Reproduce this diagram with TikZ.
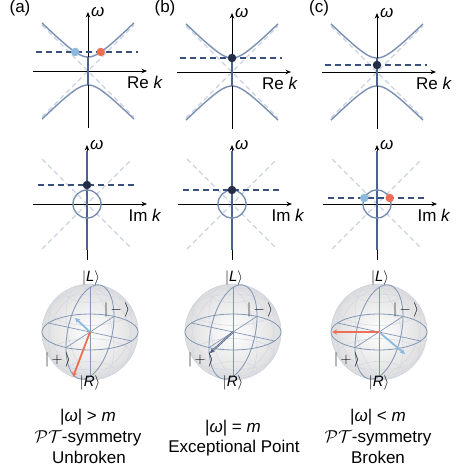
\documentclass[tikz,border=0pt]{standalone}
\usepackage{fontspec}
\setmainfont{Liberation Sans}
\usetikzlibrary{arrows.meta}
\definecolor{hypc}{HTML}{7A90B2}
\definecolor{asymc}{HTML}{C9D3E2}
\definecolor{dashc}{HTML}{37507D}
\definecolor{dotd}{HTML}{232D46}
\definecolor{dotb}{HTML}{8CB9DC}
\definecolor{dotr}{HTML}{EE6E55}
\definecolor{segc}{HTML}{4A6390}
\definecolor{gcc}{HTML}{8498B6}
\definecolor{wirec}{HTML}{D3D8E0}
\definecolor{slatec}{HTML}{4F5E76}
\definecolor{slatel}{HTML}{A9B6C8}
\newcommand{\kt}[1]{$|$#1$\rangle$}
\tikzset{
 axisline/.style={line width=0.9pt, black, -{Stealth[length=5.5pt,width=4.5pt]}},
 hypline/.style={hypc, line width=1.4pt},
 asymline/.style={asymc, line width=1.3pt, dash pattern=on 5pt off 3.5pt},
 wline/.style={dashc, line width=1.6pt, dash pattern=on 6pt off 4pt},
 lbl/.style={font=\fontsize{17}{20}\selectfont, inner sep=0pt},
 ketl/.style={font=\fontsize{15}{18}\selectfont, inner sep=0pt},
 dotn/.style={circle, inner sep=0pt, minimum size=8.5pt},
 wire/.style={wirec, line width=0.5pt},
 gcl/.style={gcc, line width=0.8pt},
 sarrow/.style={line width=1.8pt, -{Stealth[length=5pt,width=5pt]}},
}
% top panel: name, x, y, omega, label x offset
\newcommand{\TopPanel}[5]{%
\begin{scope}[shift={(#2,#3)}]
 \draw[asymline] (-46,-46) -- (46,46);
 \draw[asymline] (-46,46) -- (46,-46);
 \draw[hypline] plot[domain=-46:46, samples=47, smooth] (\x, {sqrt(\x*\x+196)});
 \draw[hypline] plot[domain=-46:46, samples=47, smooth] (\x, {-sqrt(\x*\x+196)});
 \coordinate (#1l) at (-55,0); \coordinate (#1r) at (59,0);
 \coordinate (#1b) at (0,-57); \coordinate (#1t) at (0,59);
 \draw[axisline] (#1l) -- (#1r);
 \draw[axisline] (#1b) -- (#1t);
 \coordinate (#1sb) at (0,-14); \coordinate (#1st) at (0,14);
 \draw[segc, line width=1.4pt] (#1sb) -- (#1st);
 \coordinate (#1wl) at (-52,#4); \coordinate (#1wr) at (50,#4);
 \draw[wline] (#1wl) -- (#1wr);
 \node[lbl, anchor=base west] (#1om) at (3,54) {\textit{ω}};
 \node[lbl, anchor=base] (#1k) at (#5,-18) {Re \textit{k}};
\end{scope}}
% middle panel: name, x, omega, label x offset
\newcommand{\MidPanel}[4]{%
\begin{scope}[shift={(#2,264)}]
 \draw[asymline] (-45,-45) -- (45,45);
 \draw[asymline] (-45,45) -- (45,-45);
 \coordinate (#1l) at (-54,0); \coordinate (#1r) at (60,0);
 \coordinate (#1b) at (0,-56); \coordinate (#1t) at (0,59);
 \draw[axisline] (#1l) -- (#1r);
 \draw[axisline] (#1b) -- (#1t);
 \coordinate (#1sb) at (0,-46); \coordinate (#1st) at (0,53);
 \draw[segc, line width=1.4pt] (#1sb) -- (#1st);
 \draw[hypline] (0,0) circle (14);
 \coordinate (#1wl) at (-49,#3); \coordinate (#1wr) at (50,#3);
 \draw[wline] (#1wl) -- (#1wr);
 \node[lbl, anchor=base west] (#1om) at (3,54) {\textit{ω}};
 \node[lbl, anchor=base] (#1k) at (#4,-18) {Im \textit{k}};
\end{scope}}
% Bloch sphere: name, x
\newcommand{\BlochSphere}[2]{%
\begin{scope}[shift={(#2,136)}]
 \coordinate (#1c) at (0,0);
 \shade[inner color=white, outer color=black!13] (0,0) circle (48);
 \foreach \p in {0,30,...,150}{
  \draw[wire] plot[domain=0:360,samples=73,smooth] ({sin(\x)*(41.57*cos(\p)+24*sin(\p))},{sin(\x)*(-8.99*cos(\p)+15.57*sin(\p))+44.5*cos(\x)});}
 \foreach \lat in {30,60,120,150}{
  \draw[wire] plot[domain=0:360,samples=73,smooth] ({sin(\lat)*(41.57*cos(\x)+24*sin(\x))},{sin(\lat)*(-8.99*cos(\x)+15.57*sin(\x))+44.5*cos(\lat)});}
 \draw[wire] (0,0) circle (48);
 \draw[gcl] plot[domain=0:360,samples=73,smooth] ({41.57*cos(\x)+24*sin(\x)},{-8.99*cos(\x)+15.57*sin(\x)});
 \draw[gcl] plot[domain=0:360,samples=73,smooth] ({24*sin(\x)},{15.57*sin(\x)+44.5*cos(\x)});
 \draw[gcl, line width=0.7pt] (-41.57,8.99) -- (41.57,-8.99);
 \draw[gcl, line width=0.7pt] (-24,-15.57) -- (24,15.57);
 \draw[gcl, line width=0.7pt] (0,-44.5) -- (0,44.5);
 \node[ketl] (#1L) at (1,54) {\kt{\textit{L}}};
 \node[ketl] (#1R) at (0,-51) {\kt{\textit{R}}};
 \node[ketl] (#1m) at (27,22) {\kt{\,$-$\,}};
 \node[ketl] (#1p) at (-32,-28) {\kt{\,$+$\,}};
\end{scope}}

\begin{document}
\begin{tikzpicture}[x=1pt,y=1pt]
\useasboundingbox (0,0) rectangle (468,468);
% panel letters
\node[lbl, anchor=base] (pa) at (20,455) {(a)};
\node[lbl, anchor=base] (pb) at (165,455) {(b)};
\node[lbl, anchor=base] (pc) at (319,455) {(c)};
% top row
\TopPanel{ta}{88}{397}{19}{57}
\TopPanel{tb}{232}{396}{14}{48}
\TopPanel{tc}{377}{396}{7}{57}
\node[dotn, fill=dotb] (tadb) at (75.2,416) {};
\node[dotn, fill=dotr] (tadr) at (100.8,416) {};
\node[dotn, fill=dotd] (tbd) at (232,410) {};
\node[dotn, fill=dotd] (tcd) at (377,403) {};
% middle row
\MidPanel{ma}{87}{19}{58}
\MidPanel{mb}{232}{14}{56}
\MidPanel{mc}{377}{6}{57}
\node[dotn, fill=dotd] (mad) at (87,283) {};
\node[dotn, fill=dotd] (mbd) at (232,278) {};
\node[dotn, fill=dotb] (mcdb) at (364.3,270) {};
\node[dotn, fill=dotr] (mcdr) at (389.7,270) {};
% spheres
\BlochSphere{sa}{90}
\BlochSphere{sb}{233}
\BlochSphere{sc}{379}
\coordinate (satb) at (75,150);
\coordinate (satr) at (73,91);
\draw[sarrow, dotb] (sac) -- (satb);
\draw[sarrow, dotr] (sac) -- (satr);
\coordinate (sbt) at (210,115);
\draw[line width=1.9pt, slatec, -{Stealth[length=4.5pt,width=4.5pt]}] (sbc) -- (sbt);
\draw[line width=0.6pt, slatel, shorten >=4pt] (sbc) -- (sbt);
\coordinate (sctr) at (332,136);
\coordinate (sctb) at (405,114);
\draw[sarrow, dotb] (scc) -- (sctb);
\draw[sarrow, dotr] (scc) -- (sctr);
% bottom texts
\node[lbl, anchor=base] (ta1) at (88,46) {|\textit{ω}| > \textit{m}};
\node[lbl, anchor=base] (ta2) at (88,25) {$\mathcal{PT}$-symmetry};
\node[lbl, anchor=base] (ta3) at (89,5) {Unbroken};
\node[lbl, anchor=base] (tb1) at (233,35) {|\textit{ω}| = \textit{m}};
\node[lbl, anchor=base] (tb2) at (234,15) {Exceptional Point};
\node[lbl, anchor=base] (tc1) at (378,46) {|\textit{ω}| < \textit{m}};
\node[lbl, anchor=base] (tc2) at (378,25) {$\mathcal{PT}$-symmetry};
\node[lbl, anchor=base] (tc3) at (378,5) {Broken};
\end{tikzpicture}
\end{document}
